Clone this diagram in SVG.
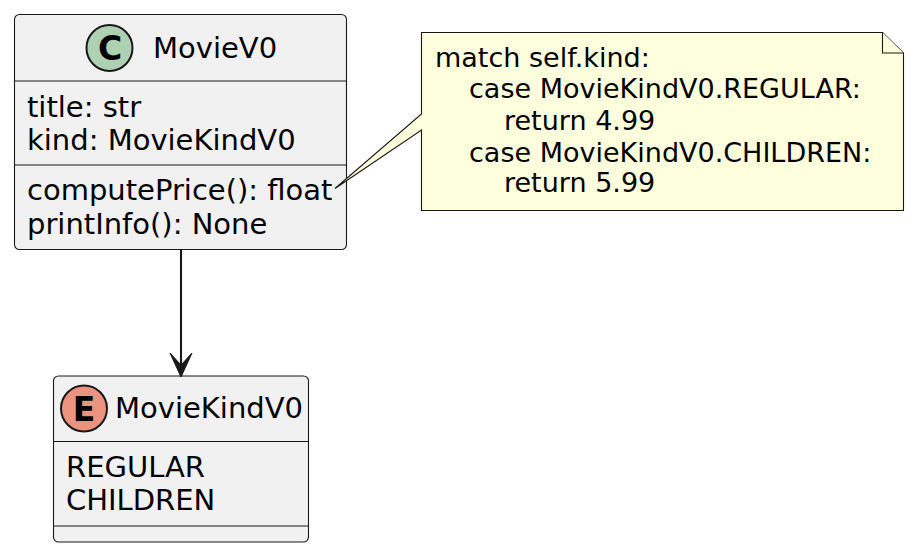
<svg xmlns="http://www.w3.org/2000/svg" width="916" height="555" viewBox="0 0 916 555">
<style>
.box{fill:#F1F1F1;stroke:#181818;stroke-width:1.1}
.div{stroke:#181818;stroke-width:1.1}
.t{font-family:"DejaVu Sans",Verdana,sans-serif;font-size:29px;fill:#000}
.n{font-family:"DejaVu Sans",Verdana,sans-serif;font-size:27px;fill:#000}
.ic{font-family:"DejaVu Sans",sans-serif;font-size:33px;font-weight:bold;fill:#000;text-anchor:middle}
.note{fill:#FEFFDD;stroke:#181818;stroke-width:1.1}
.conn{stroke:#181818;stroke-width:2.1;fill:none}
</style>
<rect width="916" height="555" fill="#FFFFFF"/>
<g id="MovieV0">
<rect class="box" x="14.5" y="14.5" width="332" height="235" rx="5" ry="5"/>
<circle cx="109.5" cy="48" r="23" fill="#ADD1B2" stroke="#181818" stroke-width="2"/>
<text class="ic" x="110" y="60">C</text>
<text class="t" x="153" y="58">MovieV0</text>
<line class="div" x1="14.5" y1="81" x2="346.5" y2="81"/>
<text class="t" x="27" y="117">title: str</text>
<text class="t" x="27" y="150">kind: MovieKindV0</text>
<line class="div" x1="14.5" y1="165" x2="346.5" y2="165"/>
<text class="t" x="27" y="200">computePrice(): float</text>
<text class="t" x="27" y="234">printInfo(): None</text>
</g>
<g id="MovieKindV0">
<rect class="box" x="53.5" y="376" width="255" height="166" rx="5" ry="5"/>
<circle cx="84" cy="408.5" r="23" fill="#EB937F" stroke="#181818" stroke-width="2"/>
<text class="ic" x="84" y="420.5">E</text>
<text class="t" x="115" y="418">MovieKindV0</text>
<line class="div" x1="53.5" y1="441.5" x2="308.5" y2="441.5"/>
<text class="t" x="66" y="477">REGULAR</text>
<text class="t" x="66" y="510">CHILDREN</text>
<line class="div" x1="53.5" y1="526" x2="308.5" y2="526"/>
</g>
<g id="note">
<path class="note" d="M421.5,32.5 L882.5,32.5 L903.5,53 L903.5,210.5 L421.5,210.5 L421.5,130 L335,188.5 L421.5,114 Z"/>
<path class="note" d="M882.5,32.5 L882.5,53 L903.5,53"/>
<text class="n" x="435" y="67">match self.kind:</text>
<text class="n" x="469" y="98">case MovieKindV0.REGULAR:</text>
<text class="n" x="504" y="130">return 4.99</text>
<text class="n" x="469" y="162">case MovieKindV0.CHILDREN:</text>
<text class="n" x="504" y="192">return 5.99</text>
</g>
<g id="connectors">
<line class="conn" x1="181" y1="250" x2="181" y2="370"/>
<polygon points="181,377 170,353 181,365 192,353" fill="#181818" stroke="#181818" stroke-width="1"/>
</g>
</svg>
